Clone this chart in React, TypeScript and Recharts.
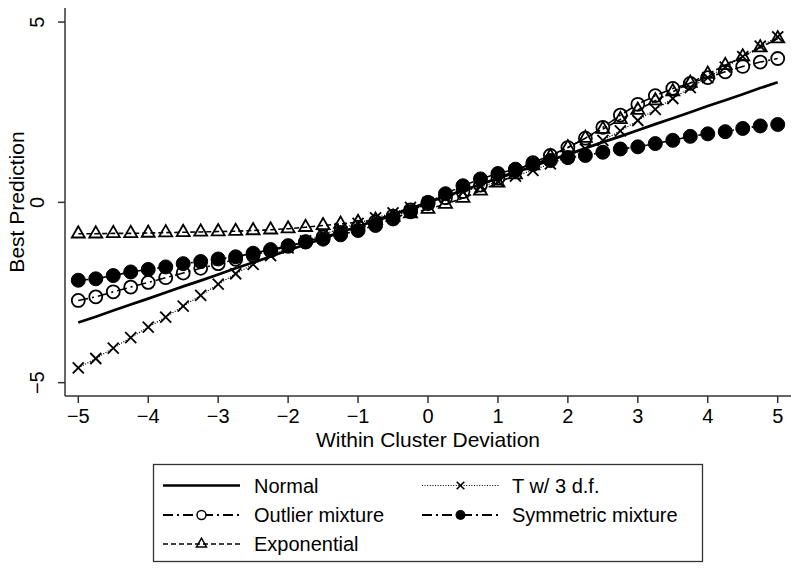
import React from 'react';
import { LineChart, Line, XAxis, YAxis } from 'recharts';

const xValues = [-5, -4.75, -4.5, -4.25, -4, -3.75, -3.5, -3.25, -3, -2.75, -2.5, -2.25, -2, -1.75, -1.5, -1.25, -1, -0.75, -0.5, -0.25, 0, 0.25, 0.5, 0.75, 1, 1.25, 1.5, 1.75, 2, 2.25, 2.5, 2.75, 3, 3.25, 3.5, 3.75, 4, 4.25, 4.5, 4.75, 5];

const normalVals = [-3.33, -3.17, -3, -2.83, -2.67, -2.5, -2.33, -2.17, -2, -1.83, -1.67, -1.5, -1.33, -1.17, -1, -0.83, -0.67, -0.5, -0.33, -0.17, 0, 0.17, 0.33, 0.5, 0.67, 0.83, 1, 1.17, 1.33, 1.5, 1.67, 1.83, 2, 2.17, 2.33, 2.5, 2.67, 2.83, 3, 3.17, 3.33];

const tVals = [-4.59, -4.33, -4.04, -3.75, -3.46, -3.18, -2.88, -2.58, -2.27, -1.98, -1.72, -1.48, -1.26, -1.07, -0.89, -0.73, -0.58, -0.43, -0.29, -0.14, 0, 0.14, 0.29, 0.43, 0.58, 0.73, 0.89, 1.07, 1.26, 1.48, 1.72, 1.98, 2.27, 2.58, 2.88, 3.18, 3.46, 3.75, 4.04, 4.33, 4.59];

const outlierVals = [-2.72, -2.62, -2.48, -2.35, -2.22, -2.09, -1.96, -1.83, -1.7, -1.58, -1.46, -1.34, -1.22, -1.09, -0.96, -0.83, -0.69, -0.54, -0.38, -0.21, -0.04, 0.13, 0.3, 0.48, 0.67, 0.88, 1.1, 1.3, 1.52, 1.78, 2.08, 2.42, 2.72, 2.96, 3.16, 3.3, 3.46, 3.62, 3.77, 3.89, 3.99];

const symmetricVals = [-2.16, -2.12, -2.03, -1.93, -1.86, -1.79, -1.7, -1.64, -1.57, -1.51, -1.41, -1.31, -1.2, -1.1, -1.02, -0.9, -0.78, -0.64, -0.46, -0.26, 0, 0.24, 0.46, 0.65, 0.8, 0.92, 1.05, 1.16, 1.24, 1.3, 1.39, 1.48, 1.54, 1.63, 1.72, 1.83, 1.9, 1.96, 2.05, 2.12, 2.16];

const exponentialVals = [-0.87, -0.87, -0.86, -0.86, -0.85, -0.84, -0.83, -0.82, -0.81, -0.8, -0.78, -0.76, -0.73, -0.69, -0.64, -0.6, -0.55, -0.49, -0.41, -0.31, -0.19, -0.05, 0.12, 0.32, 0.54, 0.77, 1.02, 1.27, 1.52, 1.78, 2.03, 2.3, 2.56, 2.82, 3.07, 3.31, 3.56, 3.8, 4.04, 4.29, 4.54];

const xTicks = [-5, -4, -3, -2, -1, 0, 1, 2, 3, 4, 5];
const yTicks = [-5, 0, 5];

const seriesNames = {
  normal: 'Normal',
  t: 'T w/ 3 d.f.',
  outlier: 'Outlier mixture',
  symmetric: 'Symmetric mixture',
  exponential: 'Exponential',
};

const data = xValues.map((x, i) => ({
  x,
  normal: normalVals[i],
  t: tVals[i],
  outlier: outlierVals[i],
  symmetric: symmetricVals[i],
  exponential: exponentialVals[i],
}));

const FONT = '"Liberation Sans", Arial, Helvetica, sans-serif';
const AXIS = '#333';
const DASHDOT = '10 4 2 4';
const DASHED = '5 3';
const DOTTED = '1 1.6';

const fmt = (v: number) => (v < 0 ? '\u2212' + Math.abs(v) : String(v));

const OpenCircle = ({ cx, cy, r = 6.5, sw = 1.8 }: any) => (
  <circle cx={cx} cy={cy} r={r} fill="none" stroke="#000" strokeWidth={sw} />
);
const FilledCircle = ({ cx, cy, r = 7 }: any) => <circle cx={cx} cy={cy} r={r} fill="#000" stroke="#000" strokeWidth={1} />;
const Triangle = ({ cx, cy, s = 13, sw = 1.8 }: any) => {
  const h = s * 0.866;
  const pts = `${cx},${cy - (2 * h) / 3} ${cx - s / 2},${cy + h / 3} ${cx + s / 2},${cy + h / 3}`;
  return <polygon points={pts} fill="none" stroke="#000" strokeWidth={sw} strokeLinejoin="miter" />;
};
const Cross = ({ cx, cy, s = 5.5, sw = 1.8 }: any) => (
  <g stroke="#000" strokeWidth={sw}>
    <line x1={cx - s} y1={cy - s} x2={cx + s} y2={cy + s} />
    <line x1={cx - s} y1={cy + s} x2={cx + s} y2={cy - s} />
  </g>
);

const XTick = (props: any) => {
  const { x, y, payload } = props;
  return (
    <text x={x} y={y} dy={18} textAnchor="middle" fontFamily={FONT} fontSize={20} fill="#000">
      {fmt(payload.value)}
    </text>
  );
};

const YTick = (props: any) => {
  const { x, y, payload } = props;
  const bx = x - 12;
  return (
    <text x={bx} y={y} transform={`rotate(-90 ${bx} ${y})`} textAnchor="middle" fontFamily={FONT} fontSize={20} fill="#000">
      {fmt(payload.value)}
    </text>
  );
};

const XLabel = (props: any) => {
  const vb = props.viewBox || {};
  const cx = vb.x + vb.width / 2;
  const y = vb.y + 51;
  return (
    <text x={cx} y={y} textAnchor="middle" fontFamily={FONT} fontSize={21} fill="#000">
      Within Cluster Deviation
    </text>
  );
};

const YLabel = (props: any) => {
  const vb = props.viewBox || {};
  const x = vb.x + 24;
  const y = vb.y + vb.height / 2;
  return (
    <text x={x} y={y} transform={`rotate(-90 ${x} ${y})`} textAnchor="middle" fontFamily={FONT} fontSize={21} fill="#000">
      Best Prediction
    </text>
  );
};

const legendRows = [
  { key: 'normal', col: 0, row: 0 },
  { key: 't', col: 1, row: 0 },
  { key: 'outlier', col: 0, row: 1 },
  { key: 'symmetric', col: 1, row: 1 },
  { key: 'exponential', col: 0, row: 2 },
];

const LegendKey = ({ k, x1, x2, y }: any) => {
  const mid = (x1 + x2) / 2;
  if (k === 'normal') return <line x1={x1} y1={y} x2={x2} y2={y} stroke="#000" strokeWidth={2.7} />;
  if (k === 't')
    return (
      <g>
        <line x1={x1} y1={y} x2={x2} y2={y} stroke="#000" strokeWidth={1.1} strokeDasharray={DOTTED} />
        <Cross cx={mid} cy={y} s={3.8} sw={1.6} />
      </g>
    );
  if (k === 'outlier')
    return (
      <g>
        <line x1={x1} y1={y} x2={x2} y2={y} stroke="#000" strokeWidth={1.8} strokeDasharray={DASHDOT} />
        <circle cx={mid} cy={y} r={4.5} fill="#fff" stroke="#000" strokeWidth={1.5} />
      </g>
    );
  if (k === 'symmetric')
    return (
      <g>
        <line x1={x1} y1={y} x2={x2} y2={y} stroke="#000" strokeWidth={1.8} strokeDasharray={DASHDOT} />
        <circle cx={mid} cy={y} r={5} fill="#000" />
      </g>
    );
  return (
    <g>
      <line x1={x1} y1={y} x2={x2} y2={y} stroke="#000" strokeWidth={1.6} strokeDasharray={DASHED} />
      <Triangle cx={mid} cy={y} s={10} sw={1.5} />
    </g>
  );
};

const ChartLegend = () => {
  const colX = [163, 422];
  const textX = [254, 512];
  const rowY = [485.5, 515, 544];
  return (
    <svg width={800} height={571} style={{ position: 'absolute', left: 0, top: 0, pointerEvents: 'none' }}>
      <rect x={153.5} y={464.5} width={549} height={97} fill="#fff" stroke={AXIS} strokeWidth={1.3} />
      {legendRows.map((r) => (
        <g key={r.key}>
          <LegendKey k={r.key} x1={colX[r.col]} x2={colX[r.col] + 77} y={rowY[r.row]} />
          <text x={textX[r.col]} y={rowY[r.row] + 7.2} fontFamily={FONT} fontSize={20} fill="#000">
            {(seriesNames as any)[r.key]}
          </text>
        </g>
      ))}
    </svg>
  );
};

export default function App() {
  return (
    <div style={{ position: 'absolute', left: 0, top: 0, width: 800, height: 571, background: '#fff' }}>
      <LineChart width={800} height={571} data={data} margin={{ top: 8, right: 9, bottom: 115, left: 0 }}>
        <XAxis
          dataKey="x"
          type="number"
          domain={[-5.19, 5.19]}
          ticks={xTicks}
          height={60}
          tickSize={7}
          tickMargin={2}
          stroke={AXIS}
          axisLine={{ stroke: AXIS, strokeWidth: 1.5 }}
          tickLine={{ stroke: AXIS, strokeWidth: 1.5 }}
          tick={<XTick />}
          interval={0}
          label={<XLabel />}
        />
        <XAxis
          xAxisId="top"
          dataKey="x"
          type="number"
          orientation="top"
          domain={[-5.19, 5.19]}
          height={0}
          tick={false}
          tickLine={false}
          axisLine={{ stroke: AXIS, strokeWidth: 1.5 }}
        />
        <YAxis
          type="number"
          domain={[-5.37, 5.39]}
          ticks={yTicks}
          width={65}
          tickSize={7}
          tickMargin={2}
          axisLine={{ stroke: AXIS, strokeWidth: 1.5 }}
          tickLine={{ stroke: AXIS, strokeWidth: 1.5 }}
          tick={<YTick />}
          interval={0}
          label={<YLabel />}
        />
        <YAxis
          yAxisId="right"
          orientation="right"
          type="number"
          domain={[-5.37, 5.39]}
          width={0}
          tick={false}
          tickLine={false}
          axisLine={{ stroke: AXIS, strokeWidth: 1.5 }}
        />
        <Line
          dataKey="normal"
          type="linear"
          stroke="#000"
          strokeWidth={2.7}
          dot={false}
          activeDot={false}
          isAnimationActive={false}
        />
        <Line
          dataKey="t"
          type="linear"
          stroke="#000"
          strokeWidth={1.2}
          strokeDasharray={DOTTED}
          dot={(p: any) => <Cross key={`t-${p.index}`} cx={p.cx} cy={p.cy} />}
          activeDot={false}
          isAnimationActive={false}
        />
        <Line
          dataKey="outlier"
          type="linear"
          stroke="#000"
          strokeWidth={1.6}
          strokeDasharray={DASHDOT}
          dot={(p: any) => <OpenCircle key={`o-${p.index}`} cx={p.cx} cy={p.cy} />}
          activeDot={false}
          isAnimationActive={false}
        />
        <Line
          dataKey="symmetric"
          type="linear"
          stroke="#000"
          strokeWidth={1.6}
          strokeDasharray={DASHDOT}
          dot={(p: any) => <FilledCircle key={`s-${p.index}`} cx={p.cx} cy={p.cy} />}
          activeDot={false}
          isAnimationActive={false}
        />
        <Line
          dataKey="exponential"
          type="linear"
          stroke="#000"
          strokeWidth={1.6}
          strokeDasharray={DASHED}
          dot={(p: any) => <Triangle key={`e-${p.index}`} cx={p.cx} cy={p.cy} />}
          activeDot={false}
          isAnimationActive={false}
        />
      </LineChart>
      <ChartLegend />
    </div>
  );
}
